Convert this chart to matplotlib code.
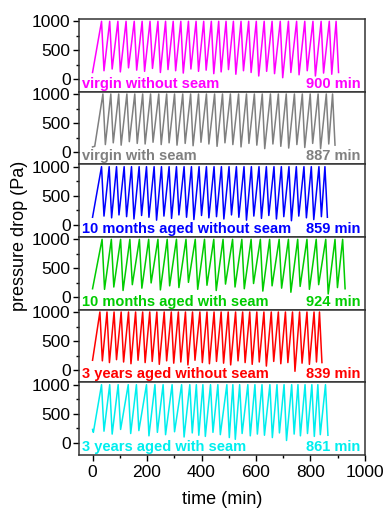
import matplotlib
matplotlib.use('Agg')
import matplotlib.pyplot as plt
from matplotlib.ticker import MultipleLocator

plt.rcParams['font.family'] = ['Liberation Sans', 'DejaVu Sans']

# panel texts, top to bottom
labels = ['virgin without seam', 'virgin with seam', '10 months aged without seam',
          '10 months aged with seam', '3 years aged without seam', '3 years aged with seam']
end_labels = ['900 min', '887 min', '859 min', '924 min', '839 min', '861 min']
colors = ['#ff00ff', '#808080', '#0000ff', '#00cc00', '#ff0000', '#00eeee']

peak_level = 1000  # cleaning trigger (Pa)
drop_min = 9       # time taken by a cleaning pulse drop

# start of each run: (time, pressure drop)
start_t = [[0], [0, 8], [0], [0], [0], [0, 3]]
start_v = [[120], [90, 100], [130], [150], [170], [230, 180]]

# times where each filtration cycle reaches the trigger (min)
peaks_magenta = [33, 63, 93, 123, 153, 182, 211, 240, 268, 296, 324, 352, 380, 408, 436,
                 463, 490, 517, 545, 573, 601, 630, 659, 689, 719, 749, 779, 809, 839, 869, 894]
peaks_gray = [38, 67, 96, 126, 155, 184, 213, 243, 272, 301, 331, 360, 389, 418, 448,
              477, 506, 536, 565, 594, 623, 653, 682, 711, 741, 770, 799, 828, 858, 881]
peaks_blue = [33, 61, 88, 116, 143, 171, 198, 226, 253, 281, 308, 336, 363, 391, 418, 446,
              473, 501, 528, 556, 583, 611, 638, 666, 693, 721, 748, 776, 803, 831, 853]
peaks_green = [35, 69, 103, 137, 172, 206, 240, 274, 308, 343, 377, 411, 445, 479,
               514, 548, 582, 616, 650, 685, 719, 753, 787, 821, 856, 890, 918]
peaks_red = [27, 53, 79, 105, 132, 158, 184, 210, 236, 263, 289, 315, 341, 367, 394, 420,
             446, 472, 498, 525, 551, 577, 603, 629, 656, 682, 708, 734, 760, 787, 813, 833]
peaks_cyan = [33, 63, 94, 131, 161, 198, 229, 259, 292, 327, 357, 381, 405, 433, 460,
              493, 515, 540, 570, 596, 622, 651, 677, 703, 731, 754, 780, 805, 827, 855]

# residual pressure drop right after each cleaning (Pa)
troughs_magenta = [150, 180, 130, 200, 160, 140, 190, 120, 170, 150, 110, 180, 140, 160, 100,
                   130, 170, 90, 150, 120, 60, 140, 100, 30, 120, 80, 150, 60, 110, 90, 120]
troughs_gray = [130, 160, 120, 180, 150, 140, 170, 130, 160, 120, 150, 110, 170, 140, 100,
                160, 130, 90, 150, 120, 60, 140, 100, 70, 130, 80, 150, 60, 140, 120]
troughs_blue = [150, 120, 170, 140, 100, 160, 130, 80, 150, 110, 170, 130, 90, 160, 120,
                140, 100, 170, 130, 80, 150, 110, 160, 100, 140, 70, 150, 120, 90, 140, 130]
troughs_green = [140, 180, 120, 220, 160, 250, 130, 200, 170, 260, 140, 210, 120, 230, 180,
                 150, 240, 110, 200, 160, 90, 190, 140, 220, 60, 170, 150]
troughs_red = [160, 130, 180, 140, 110, 170, 130, 150, 100, 160, 120, 140, 90, 170, 130,
               110, 150, 120, 90, 160, 130, 100, 140, 70, 150, 110, 130, -20, 120, 100, 140, 130]
troughs_cyan = [200, 150, 230, 160, 210, 120, 180, 140, 190, 100, 170, 130, 110, 180, 140,
                90, 60, 160, 120, 150, 130, 90, 170, 40, 150, 120, 160, 110, 140, 130]

peaks = [peaks_magenta, peaks_gray, peaks_blue, peaks_green, peaks_red, peaks_cyan]
troughs = [troughs_magenta, troughs_gray, troughs_blue, troughs_green, troughs_red, troughs_cyan]


def sawtooth(t0, v0, pk, tr):
    x = list(t0)
    y = list(v0)
    for p, v in zip(pk, tr):
        x += [p, p + drop_min]
        y += [peak_level, v]
    return x, y


fig, axes = plt.subplots(6, 1, sharex=True, figsize=(3.85, 5.08), dpi=100)
fig.subplots_adjust(left=0.205, right=0.948, top=0.9626, bottom=0.1043, hspace=0)

for i, ax in enumerate(axes):
    x, y = sawtooth(start_t[i], start_v[i], peaks[i], troughs[i])
    ax.plot(x, y, color=colors[i], lw=1.1)
    ax.set_xlim(-50, 1000)
    ax.set_ylim(-210, 1040)
    ax.set_yticks([0, 500, 1000])
    ax.yaxis.set_minor_locator(MultipleLocator(250))
    ax.tick_params(axis='y', which='major', direction='out', length=4, width=1,
                   labelsize=12.5, pad=2, right=False)
    ax.tick_params(axis='y', which='minor', direction='out', length=2.5, width=1, right=False)
    for s in ax.spines.values():
        s.set_color('#333333')
        s.set_linewidth(1.1)
    ax.text(0.012, 0.055, labels[i], transform=ax.transAxes, color=colors[i],
            fontweight='bold', fontsize=10.5, ha='left', va='baseline')
    ax.text(0.985, 0.055, end_labels[i], transform=ax.transAxes, color=colors[i],
            fontweight='bold', fontsize=10.5, ha='right', va='baseline')
    if i < 5:
        ax.tick_params(axis='x', which='both', bottom=False, top=False)

axes[-1].xaxis.set_major_locator(MultipleLocator(200))
axes[-1].xaxis.set_minor_locator(MultipleLocator(100))
axes[-1].tick_params(axis='x', which='major', direction='out', length=4, width=1,
                     labelsize=12.5, top=False)
axes[-1].tick_params(axis='x', which='minor', direction='out', length=2.5, width=1, top=False)

fig.text(0.05, 0.535, 'pressure drop (Pa)', rotation=90, ha='center', va='center', fontsize=13)
fig.text(0.577, 0.016, 'time (min)', ha='center', va='center', fontsize=13)

fig.savefig('out.png', dpi=100)
